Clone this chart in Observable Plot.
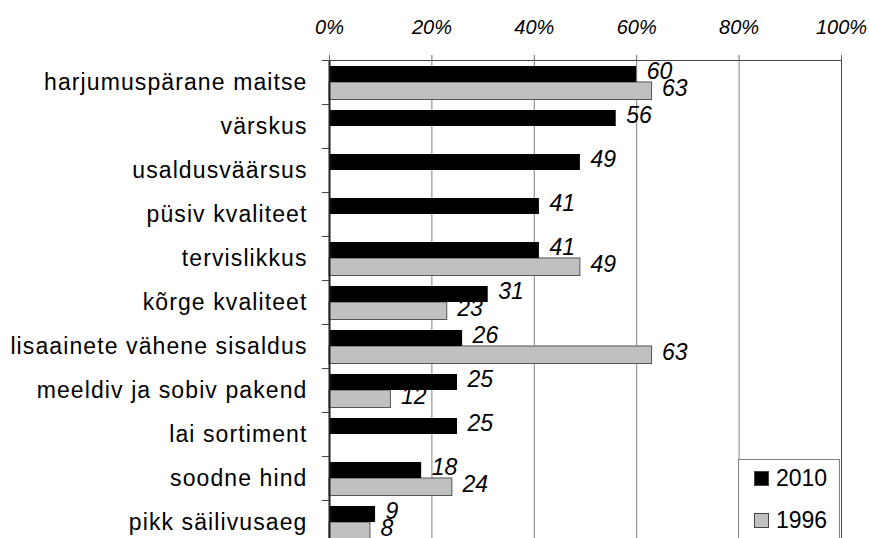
<!DOCTYPE html>
<html><head><meta charset="utf-8">
<script src="https://cdn.jsdelivr.net/npm/d3@7"></script>
<script src="https://cdn.jsdelivr.net/npm/@observablehq/plot@0.6"></script>
<style>
html,body{margin:0;padding:0;overflow:hidden;background:#fff;}
#wrap{position:relative;width:869px;height:538px;overflow:hidden;}
#chart text{font-family:"Liberation Sans",Arial,sans-serif;}
#chart [aria-label="x-axis tick label"] text{font-style:italic;font-size:20px;fill:#000;}
#chart [aria-label="y-axis tick label"] text{font-size:23px;letter-spacing:1.1px;fill:#000;}
#legend{position:absolute;left:738px;top:459px;width:102px;height:100px;border:1px solid #808080;background:#fff;box-sizing:border-box;font-family:"Liberation Sans",Arial,sans-serif;font-size:23px;color:#000;}
.item{position:absolute;left:15px;display:flex;align-items:center;}
.sw{width:15px;height:15px;box-sizing:border-box;border:1px solid #444;margin-right:7px;}
</style></head>
<body>
<div id="wrap"><div id="chart"></div><div id="legend"></div></div>
<script>
const categories = ["harjumuspärane maitse","värskus","usaldusväärsus","püsiv kvaliteet","tervislikkus","kõrge kvaliteet","lisaainete vähene sisaldus","meeldiv ja sobiv pakend","lai sortiment","soodne hind","pikk säilivusaeg"];
const values2010 = [60,56,49,41,41,31,26,25,25,18,9];
const values1996 = [63,null,null,null,49,23,63,12,null,24,8];
const series = ["2010","1996"];
const seriesColors = ["#000000","#c0c0c0"];
const xTicks = [0,20,40,60,80,100];

const d2010 = categories.map((c,i)=>({cat:c, v:values2010[i]})).filter(d=>d.v!=null);
const d1996 = categories.map((c,i)=>({cat:c, v:values1996[i]})).filter(d=>d.v!=null);

const chart = Plot.plot({
  width: 869,
  height: 544,
  marginTop: 60,
  marginBottom: 0,
  marginLeft: 329,
  marginRight: 28,
  style: {fontFamily:"Liberation Sans, Arial, sans-serif", background:"#fff"},
  x: {domain:[0,100]},
  y: {domain: categories, padding: 0},
  marks: [
    Plot.gridX(xTicks.slice(1), {stroke:"#808080", strokeOpacity:1}),
    Plot.barX(d1996, {x:"v", y:"cat", fill:seriesColors[1], stroke:"#555", insetTop:22, insetBottom:4.5}),
    Plot.barX(d2010, {x:"v", y:"cat", fill:seriesColors[0], insetTop:6, insetBottom:22}),
    Plot.frame({stroke:"#444"}),
    Plot.ruleX([0], {stroke:"#222", strokeWidth:2}),
    Plot.ruleY(categories, {y:d=>d, x1:-1.4, x2:0, dy:-22, stroke:"#444"}),
    Plot.axisX({anchor:"top", ticks:xTicks, tickFormat:d=>d+"%", tickSize:6, tickPadding:21, stroke:"#666", label:null}),
    Plot.axisY({anchor:"left", tickSize:0, tickPadding:22, label:null}),
    Plot.text(d2010, {x:"v", y:"cat", text:d=>String(d.v), textAnchor:"start", dx:10, dy:-11, fontSize:23, fontStyle:"italic", fill:"#000"}),
    Plot.text(d1996, {x:"v", y:"cat", text:d=>String(d.v), textAnchor:"start", dx:10, dy:6, fontSize:23, fontStyle:"italic", fill:"#000"})
  ]
});
document.getElementById("chart").appendChild(chart);

const legend = document.getElementById("legend");
series.forEach((s,i)=>{
  const it = document.createElement("div");
  it.className = "item";
  it.style.top = (i===0 ? 5 : 47) + "px";
  const sw = document.createElement("div");
  sw.className = "sw";
  sw.style.background = seriesColors[i];
  const tx = document.createElement("span");
  tx.textContent = s;
  it.appendChild(sw); it.appendChild(tx);
  legend.appendChild(it);
});
</script>
</body></html>
